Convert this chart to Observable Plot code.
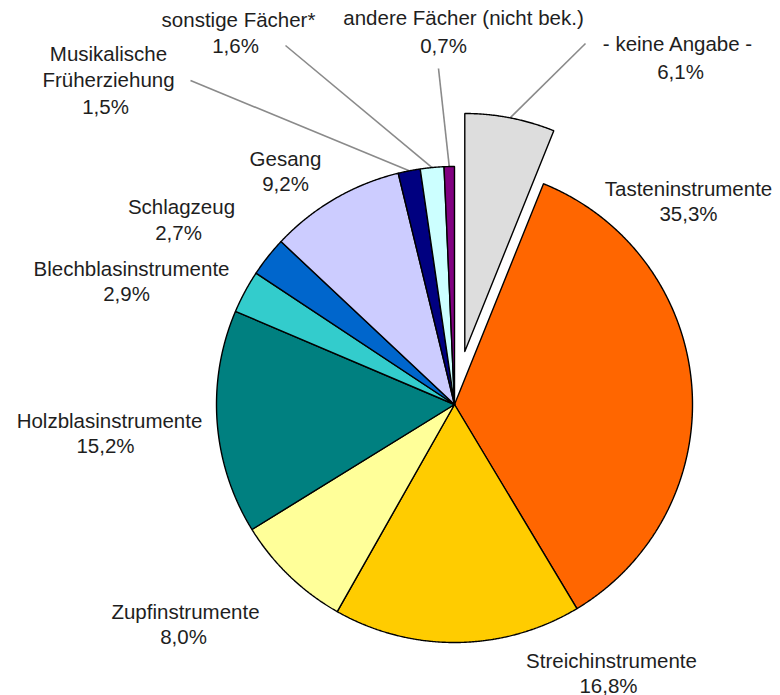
<!DOCTYPE html>
<html>
<head>
<meta charset="utf-8">
<script src="https://cdn.jsdelivr.net/npm/d3@7"></script>
<script src="https://cdn.jsdelivr.net/npm/@observablehq/plot@0.6"></script>
<style>
  html, body { margin: 0; padding: 0; background: #ffffff; }
  #chart svg { display: block; }
</style>
</head>
<body>
<div id="chart"></div>
<script>
// ---- Data (clockwise from 12 o'clock) ----
const categories = [
  "- keine Angabe -",
  "Tasteninstrumente",
  "Streichinstrumente",
  "Zupfinstrumente",
  "Holzblasinstrumente",
  "Blechblasinstrumente",
  "Schlagzeug",
  "Gesang",
  "Musikalische\nFrüherziehung",
  "sonstige Fächer*",
  "andere Fächer (nicht bek.)"
];
const values = [6.1, 35.3, 16.8, 8.0, 15.2, 2.9, 2.7, 9.2, 1.5, 1.6, 0.7];
const valueLabels = ["6,1%", "35,3%", "16,8%", "8,0%", "15,2%", "2,9%", "2,7%", "9,2%", "1,5%", "1,6%", "0,7%"];
const colors = ["#DDDDDD", "#FF6600", "#FFCC00", "#FFFF99", "#008080", "#33CCCC", "#0066CC", "#CCCCFF", "#000080", "#CCFFFF", "#800080"];

// ---- Layout ----
const W = 780, H = 695;
const CX = 454, CY = 404, R = 238;
const explodedIndex = 0, explodeDist = 54;
const FS = 20.5, LH = 26;
// label anchor: name centre x, first baseline y, value centre x, value baseline y
const labelLayout = [
  {nx: 677, ny: 50,  vx: 680, vy: 78},
  {nx: 688, ny: 195, vx: 688, vy: 220},
  {nx: 611, ny: 667, vx: 608, vy: 692},
  {nx: 185, ny: 618, vx: 183, vy: 643},
  {nx: 109, ny: 427, vx: 105, vy: 452},
  {nx: 131, ny: 275, vx: 126, vy: 300},
  {nx: 181, ny: 213, vx: 178, vy: 239},
  {nx: 285, ny: 165, vx: 285, vy: 190},
  {nx: 108, ny: 60,  vx: 105, vy: 113},
  {nx: 238, ny: 26,  vx: 235, vy: 52},
  {nx: 463, ny: 24,  vx: 443, vy: 52}
];
// leader line start points (label side)
const leaderStarts = [
  {i: 0,  x: 585, y: 43},
  {i: 8,  x: 190, y: 80},
  {i: 9,  x: 285, y: 45},
  {i: 10, x: 438, y: 68}
];

// ---- Geometry from data ----
const total = d3.sum(values);
let acc = 0;
const slices = values.map((v, i) => {
  const a0 = acc / total * 2 * Math.PI;
  acc += v;
  const a1 = acc / total * 2 * Math.PI;
  const mid = (a0 + a1) / 2;
  const off = i === explodedIndex ? explodeDist : 0;
  const ox = CX + off * Math.sin(mid), oy = CY - off * Math.cos(mid);
  return {i, a0, a1, mid, ox, oy, color: colors[i]};
});

const slicePts = [];
for (const s of slices) {
  const n = Math.max(2, Math.ceil((s.a1 - s.a0) / 0.004));
  slicePts.push({i: s.i, x: s.ox, y: s.oy, color: s.color});
  for (let k = 0; k <= n; k++) {
    const a = s.a0 + (s.a1 - s.a0) * k / n;
    slicePts.push({i: s.i, x: s.ox + R * Math.sin(a), y: s.oy - R * Math.cos(a), color: s.color});
  }
  slicePts.push({i: s.i, x: s.ox, y: s.oy, color: s.color});
}

const leaders = leaderStarts.map(d => {
  const s = slices[d.i];
  return {x1: d.x, y1: d.y, x2: s.ox + R * Math.sin(s.mid), y2: s.oy - R * Math.cos(s.mid)};
});

const textRows = [];
categories.forEach((c, i) => {
  const L = labelLayout[i];
  c.split("\n").forEach((line, k) => textRows.push({x: L.nx, y: L.ny + k * LH, text: line}));
  textRows.push({x: L.vx, y: L.vy, text: valueLabels[i]});
});

const chart = Plot.plot({
  width: W, height: H,
  margin: 0,
  x: {domain: [0, W], range: [0, W], axis: null},
  y: {domain: [0, H], range: [0, H], axis: null},
  color: {type: "identity"},
  style: {background: "#ffffff"},
  marks: [
    Plot.link(leaders, {x1: "x1", y1: "y1", x2: "x2", y2: "y2", stroke: "#8a8a8a", strokeWidth: 1.6}),
    Plot.line(slicePts, {x: "x", y: "y", z: "i", fill: "color", stroke: "#000000", strokeWidth: 1.4, strokeLinejoin: "miter", curve: "linear"}),
    Plot.text(textRows, {x: "x", y: "y", text: "text", fontSize: FS, fill: "#1e1e1e",
      fontFamily: "'Liberation Sans', Arial, sans-serif", textAnchor: "middle", lineAnchor: "bottom"})
  ]
});
document.getElementById("chart").appendChild(chart);
</script>
</body>
</html>
